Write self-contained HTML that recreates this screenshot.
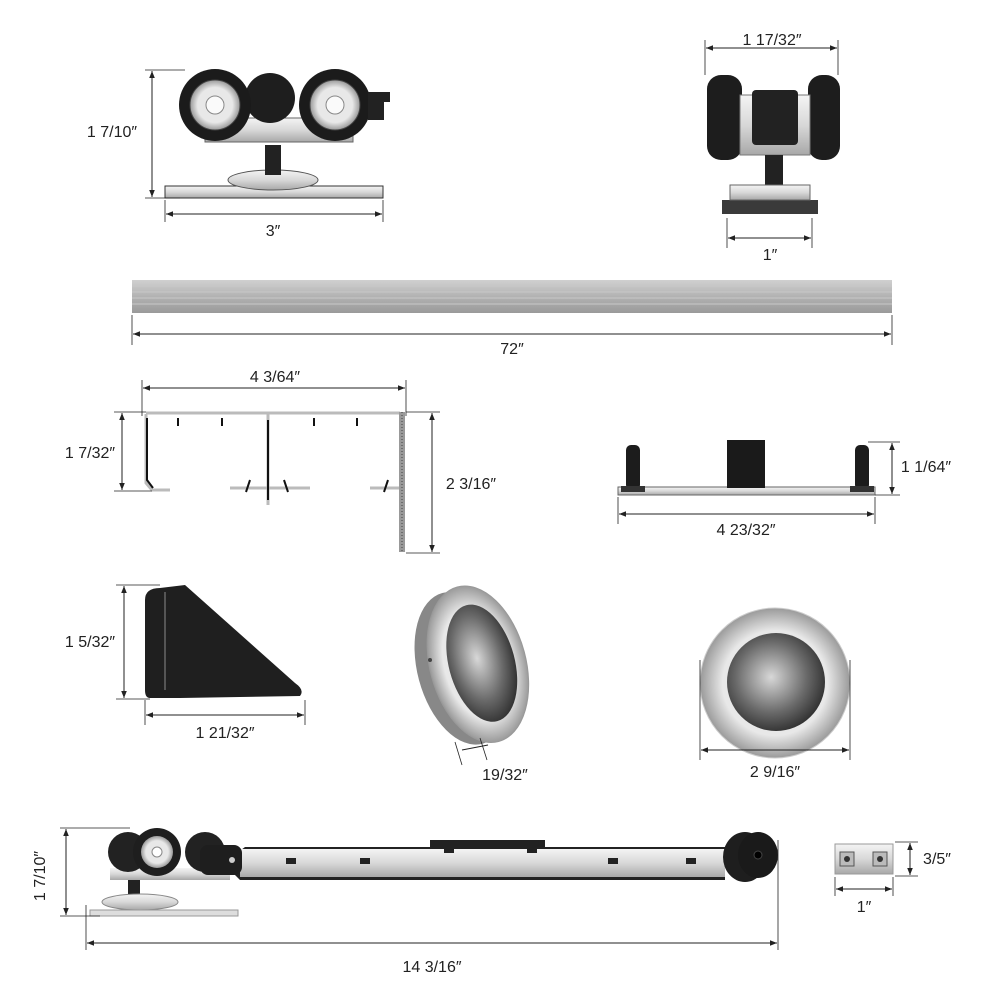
<!DOCTYPE html>
<html><head><meta charset="utf-8"><style>
html,body{margin:0;padding:0;background:#fff}
svg{display:block}
text{font-family:"Liberation Sans Narrow","Liberation Sans",sans-serif;font-size:16px;fill:#222;text-anchor:middle}
.d{stroke:#222;stroke-width:1;fill:none}
.e{stroke:#222;stroke-width:0.8}
</style></head><body>
<svg width="1000" height="1000" viewBox="0 0 1000 1000" xmlns="http://www.w3.org/2000/svg">
<defs>
<marker id="a" viewBox="0 0 10 10" refX="10" refY="5" markerWidth="7" markerHeight="7" orient="auto-start-reverse"><path d="M0,1 L10,5 L0,9 z" fill="#222"/></marker>
<linearGradient id="sil" x1="0" y1="0" x2="0" y2="1"><stop offset="0" stop-color="#f4f4f4"/><stop offset="0.5" stop-color="#d8d8d8"/><stop offset="1" stop-color="#a8a8a8"/></linearGradient>
<linearGradient id="trk" x1="0" y1="0" x2="0" y2="1"><stop offset="0" stop-color="#d0d0d0"/><stop offset="0.5" stop-color="#b2b2b2"/><stop offset="1" stop-color="#9a9a9a"/></linearGradient>
<radialGradient id="bowl" cx="0.45" cy="0.45" r="0.6"><stop offset="0" stop-color="#d8d8d8"/><stop offset="0.6" stop-color="#6a6a6a"/><stop offset="1" stop-color="#2a2a2a"/></radialGradient>
<radialGradient id="ring" cx="0.5" cy="0.5" r="0.5"><stop offset="0.7" stop-color="#e8e8e8"/><stop offset="1" stop-color="#9a9a9a"/></radialGradient>
</defs>

<!-- TOP-LEFT ROLLER -->
<rect x="165" y="186" width="218" height="12" fill="url(#sil)" stroke="#333" stroke-width="1"/>
<ellipse cx="273" cy="180" rx="45" ry="10" fill="url(#sil)" stroke="#555"/>
<rect x="265" y="145" width="16" height="30" fill="#222"/>
<rect x="205" y="118" width="148" height="24" fill="url(#sil)" stroke="#666"/>
<circle cx="270" cy="98" r="25" fill="#1e1e1e"/>
<circle cx="215" cy="105" r="36" fill="#1b1b1b"/>
<circle cx="215" cy="105" r="25" fill="url(#ring)" stroke="#444"/>
<circle cx="215" cy="105" r="9" fill="#fafafa" stroke="#888"/>
<circle cx="335" cy="105" r="36" fill="#1b1b1b"/>
<circle cx="335" cy="105" r="25" fill="url(#ring)" stroke="#444"/>
<circle cx="335" cy="105" r="9" fill="#fafafa" stroke="#888"/>
<path d="M368 92 h22 v10 h-6 v18 h-16z" fill="#222"/>
<line class="e" x1="145" y1="70" x2="185" y2="70"/><line class="e" x1="145" y1="198" x2="180" y2="198"/>
<line class="d" x1="152" y1="71" x2="152" y2="197" marker-start="url(#a)" marker-end="url(#a)"/>
<text x="112" y="137">1 7/10″</text>
<line class="e" x1="165" y1="200" x2="165" y2="222"/><line class="e" x1="383" y1="200" x2="383" y2="222"/>
<line class="d" x1="166" y1="214" x2="382" y2="214" marker-start="url(#a)" marker-end="url(#a)"/>
<text x="273" y="236">3″</text>

<!-- TOP-RIGHT ROLLER -->
<line class="e" x1="705" y1="40" x2="705" y2="75"/><line class="e" x1="838" y1="40" x2="838" y2="75"/>
<line class="d" x1="706" y1="48" x2="837" y2="48" marker-start="url(#a)" marker-end="url(#a)"/>
<text x="772" y="45">1 17/32″</text>
<rect x="707" y="75" width="35" height="85" rx="14" fill="#1d1d1d"/>
<rect x="808" y="75" width="32" height="85" rx="14" fill="#1d1d1d"/>
<rect x="740" y="95" width="70" height="60" fill="url(#sil)" stroke="#777"/>
<rect x="752" y="90" width="46" height="55" rx="4" fill="#222"/>
<rect x="765" y="155" width="18" height="30" fill="#222"/>
<path d="M722 200 h96 v14 h-96z" fill="#3a3a3a"/>
<rect x="730" y="185" width="80" height="15" fill="url(#sil)" stroke="#666"/>
<line class="e" x1="727" y1="218" x2="727" y2="248"/><line class="e" x1="812" y1="218" x2="812" y2="248"/>
<line class="d" x1="728" y1="238" x2="811" y2="238" marker-start="url(#a)" marker-end="url(#a)"/>
<text x="770" y="260">1″</text>

<!-- TRACK -->
<rect x="132" y="280" width="760" height="33" fill="url(#trk)"/>
<g stroke="#c8c8c8" stroke-width="1">
<line x1="132" y1="286" x2="892" y2="286"/><line x1="132" y1="292" x2="892" y2="292"/><line x1="132" y1="298" x2="892" y2="298"/><line x1="132" y1="304" x2="892" y2="304"/></g>
<line class="e" x1="132" y1="315" x2="132" y2="345"/><line class="e" x1="892" y1="315" x2="892" y2="345"/>
<line class="d" x1="133" y1="334" x2="891" y2="334" marker-start="url(#a)" marker-end="url(#a)"/>
<text x="512" y="354">72″</text>

<!-- TRACK PROFILE -->
<line class="e" x1="142" y1="380" x2="142" y2="416"/><line class="e" x1="406" y1="380" x2="406" y2="416"/>
<line class="d" x1="143" y1="388" x2="405" y2="388" marker-start="url(#a)" marker-end="url(#a)"/>
<text x="275" y="382">4 3/64″</text>
<g fill="none" stroke="#bbb" stroke-width="3">
<path d="M146 413 H400"/>
<path d="M146 414 V483 L152 490 H170"/>
<path d="M268 414 V505"/>
<path d="M230 488 H310 M370 488 H400"/>
</g>
<g fill="none" stroke="#111" stroke-width="2">
<path d="M147 418 V480 L153 488"/>
<path d="M268 420 V500"/>
<path d="M178 418 v8 M222 418 v8 M314 418 v8 M357 418 v8"/>
<path d="M250 480 l-4 12 M284 480 l4 12 M388 480 l-4 12"/>
</g>
<rect x="399" y="412" width="6" height="140" fill="#999"/>
<line x1="402" y1="412" x2="402" y2="552" stroke="#444" stroke-dasharray="1 2"/>
<line class="e" x1="114" y1="412" x2="146" y2="412"/><line class="e" x1="114" y1="491" x2="152" y2="491"/>
<line class="d" x1="122" y1="413" x2="122" y2="490" marker-start="url(#a)" marker-end="url(#a)"/>
<text x="90" y="458">1 7/32″</text>
<line class="e" x1="406" y1="412" x2="440" y2="412"/><line class="e" x1="406" y1="553" x2="440" y2="553"/>
<line class="d" x1="432" y1="413" x2="432" y2="552" marker-start="url(#a)" marker-end="url(#a)"/>
<text x="471" y="489">2 3/16″</text>

<!-- GUIDE -->
<rect x="618" y="487" width="257" height="8" fill="url(#sil)" stroke="#666"/>
<rect x="626" y="445" width="14" height="45" rx="5" fill="#1c1c1c"/>
<rect x="855" y="445" width="14" height="45" rx="5" fill="#1c1c1c"/>
<rect x="621" y="486" width="24" height="6" fill="#333"/>
<rect x="850" y="486" width="24" height="6" fill="#333"/>
<rect x="727" y="440" width="38" height="48" fill="#1a1a1a"/>
<line class="e" x1="868" y1="442" x2="900" y2="442"/><line class="e" x1="875" y1="495" x2="900" y2="495"/>
<line class="d" x1="892" y1="443" x2="892" y2="494" marker-start="url(#a)" marker-end="url(#a)"/>
<text x="926" y="472">1 1/64″</text>
<line class="e" x1="618" y1="497" x2="618" y2="524"/><line class="e" x1="875" y1="497" x2="875" y2="524"/>
<line class="d" x1="619" y1="514" x2="874" y2="514" marker-start="url(#a)" marker-end="url(#a)"/>
<text x="746" y="535">4 23/32″</text>

<!-- STOP BRACKET -->
<path d="M145 600 Q145 588 160 588 L185 585 L295 683 Q305 690 300 696 L180 698 L150 698 Q145 698 145 690z" fill="#1f1f1f"/>
<path d="M165 592 V690" stroke="#555" stroke-width="2"/>
<line class="e" x1="116" y1="585" x2="160" y2="585"/><line class="e" x1="116" y1="699" x2="150" y2="699"/>
<line class="d" x1="124" y1="586" x2="124" y2="698" marker-start="url(#a)" marker-end="url(#a)"/>
<text x="90" y="647">1 5/32″</text>
<line class="e" x1="145" y1="700" x2="145" y2="725"/><line class="e" x1="305" y1="700" x2="305" y2="725"/>
<line class="d" x1="146" y1="715" x2="304" y2="715" marker-start="url(#a)" marker-end="url(#a)"/>
<text x="225" y="738">1 21/32″</text>

<!-- OVAL HANDLE -->
<g transform="rotate(-15 475 665)">
<ellipse cx="462" cy="665" rx="45" ry="78" fill="#888"/>
<ellipse cx="478" cy="665" rx="48" ry="80" fill="url(#ring)" stroke="#999"/>
<ellipse cx="482" cy="665" rx="33" ry="60" fill="url(#bowl)"/>
</g>
<circle cx="430" cy="660" r="2" fill="#444"/>
<line class="e" x1="455" y1="742" x2="462" y2="765"/><line class="e" x1="480" y1="738" x2="487" y2="760"/>
<line class="d" x1="462" y1="750" x2="488" y2="745"/>
<text x="505" y="780">19/32″</text>

<!-- ROUND HANDLE -->
<circle cx="775" cy="683" r="75" fill="url(#ring)" stroke="#ccc"/>
<circle cx="776" cy="682" r="49" fill="url(#bowl)"/>
<line class="e" x1="700" y1="660" x2="700" y2="760"/><line class="e" x1="850" y1="660" x2="850" y2="760"/>
<line class="d" x1="701" y1="750" x2="849" y2="750" marker-start="url(#a)" marker-end="url(#a)"/>
<text x="775" y="777">2 9/16″</text>

<!-- BOTTOM ASSEMBLY -->
<path d="M230 858 L245 847 H430 V840 H545 V847 H725 V880 H240 L230 870z" fill="#222"/>
<rect x="240" y="849" width="485" height="28" fill="url(#sil)"/>
<g fill="#222"><rect x="286" y="858" width="10" height="6"/><rect x="360" y="858" width="10" height="6"/><rect x="444" y="847" width="10" height="6"/><rect x="527" y="847" width="10" height="6"/><rect x="608" y="858" width="10" height="6"/><rect x="686" y="858" width="10" height="6"/></g>
<rect x="110" y="868" width="120" height="12" fill="url(#sil)"/>
<circle cx="128" cy="852" r="20" fill="#222"/>
<circle cx="205" cy="852" r="20" fill="#222"/>
<circle cx="157" cy="852" r="24" fill="#1e1e1e"/>
<circle cx="157" cy="852" r="16" fill="url(#ring)"/>
<circle cx="157" cy="852" r="5" fill="#fff" stroke="#888"/>
<rect x="200" y="845" width="42" height="30" rx="8" fill="#1e1e1e"/>
<circle cx="232" cy="860" r="3" fill="#ccc"/>
<rect x="128" y="880" width="12" height="22" fill="#222"/>
<ellipse cx="140" cy="902" rx="38" ry="8" fill="url(#sil)" stroke="#888"/>
<rect x="90" y="910" width="148" height="6" fill="#ddd" stroke="#999"/>
<ellipse cx="745" cy="857" rx="22" ry="25" fill="#1e1e1e"/>
<ellipse cx="758" cy="855" rx="20" ry="23" fill="#1a1a1a"/>
<circle cx="758" cy="855" r="4" fill="#000" stroke="#444"/>
<line class="e" x1="60" y1="828" x2="130" y2="828"/><line class="e" x1="60" y1="916" x2="100" y2="916"/>
<line class="d" x1="66" y1="829" x2="66" y2="915" marker-start="url(#a)" marker-end="url(#a)"/>
<text x="45" y="876" transform="rotate(-90 45 876)">1 7/10″</text>
<line class="e" x1="86" y1="905" x2="86" y2="950"/><line class="e" x1="778" y1="840" x2="778" y2="950"/>
<line class="d" x1="87" y1="943" x2="777" y2="943" marker-start="url(#a)" marker-end="url(#a)"/>
<text x="432" y="972">14 3/16″</text>

<!-- CLIP -->
<rect x="835" y="844" width="58" height="30" fill="url(#sil)" stroke="#999"/>
<rect x="840" y="852" width="14" height="14" fill="#bbb" stroke="#555"/>
<rect x="873" y="852" width="14" height="14" fill="#bbb" stroke="#555"/>
<circle cx="847" cy="859" r="3" fill="#333"/><circle cx="880" cy="859" r="3" fill="#333"/>
<line class="e" x1="895" y1="842" x2="918" y2="842"/><line class="e" x1="895" y1="876" x2="918" y2="876"/>
<line class="d" x1="910" y1="843" x2="910" y2="875" marker-start="url(#a)" marker-end="url(#a)"/>
<text x="937" y="864">3/5″</text>
<line class="e" x1="835" y1="877" x2="835" y2="896"/><line class="e" x1="893" y1="877" x2="893" y2="896"/>
<line class="d" x1="836" y1="889" x2="892" y2="889" marker-start="url(#a)" marker-end="url(#a)"/>
<text x="864" y="912">1″</text>
</svg>
</body></html>
